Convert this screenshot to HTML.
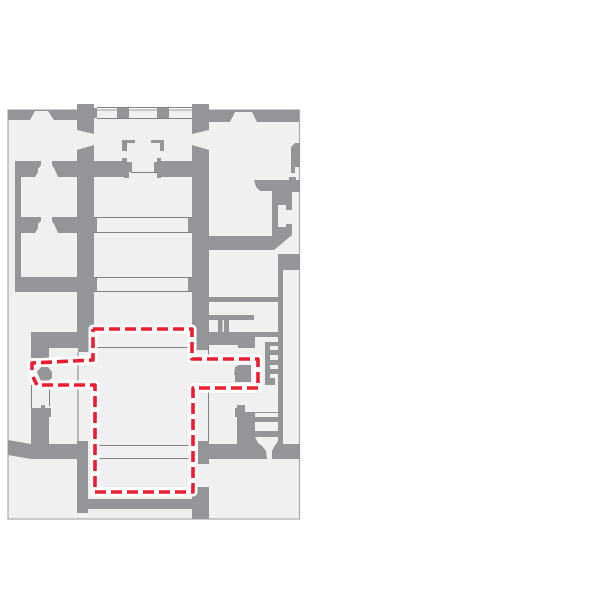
<!DOCTYPE html>
<html><head><meta charset="utf-8"><style>html,body{margin:0;padding:0;background:#fff}svg{display:block}</style></head>
<body><svg width="600" height="600" viewBox="0 0 600 600" xmlns="http://www.w3.org/2000/svg">
<rect width="600" height="600" fill="#fff"/>
<rect x="8" y="110" width="291.500" height="409" fill="#f0f0f0" stroke="#a7a9ac" stroke-width="1.200"/>
<g fill="#939598">
<path d="M8 110H77V120H54L48 111H35L30 120H8Z"/>
<path d="M77 104H94V108H97V118H94V134L77 130Z"/>
<path d="M192 104H209V110H299V122H257L252 112H235L230 122H209V130L192 134Z"/>
<rect x="157" y="108" width="12" height="10"/><rect x="117" y="108" width="12" height="10"/>
<path d="M77 150L94 145V161H122V158H127V162H132V172H129V178H124V177H94V217H97V233H94V277H97V292H94V333H90V352H78V348H49V358H31V332H77V292H15V161H41V165L39 168H38V172L35 177H21V217H41V221L38 224V228L35 233H21V277H77V233H58L55 226L52 221V217H77V177H58L55 170L52 165V161H77Z"/>
<path d="M192 145L209 150V236H272V191H260L256 187L254 180H289V177H296V180H300V192H292V235L274 250H209V297H278V254H300V270H283V444H278V302H209V315H254V320H229V332H278V337H255V348H238V345H209V350H192V292H188V277H192V233H188V217H192V177H161V178H157V172H154V162H157V158H161V161H192Z"/>
<path d="M291 147L295 143H300V167H295V173H291Z"/>
<path d="M122 140H135V143H127V151H122Z"/><path d="M151 140H164V151H160V143H151Z"/>
<path d="M265 342H278V346H270V350H278V355H270V360H278V365H270V369H278V374H270V378H275V385H270L265 385Z"/>
<path d="M235 367L239 365H251V382H235V375H234Z"/>
<path d="M37 372L41 367H48L52 372V378L48 381H41Z"/>
<path d="M41 405H45V408H51V417H49V444H77V441H88V499H192V487H209V519H192V509H88V513H77V459H31L8 455V440L31 444V408H41Z"/>
<path d="M237 405H245V408H237Z"/>
<rect x="235" y="408" width="10" height="9"/>
<rect x="237" y="412" width="18" height="33"/>
<rect x="255" y="412" width="28" height="33"/>
<rect x="198" y="444" width="102" height="15"/>
<rect x="198" y="441" width="11" height="23"/>
</g>
<g fill="#f0f0f0">
<path d="M278 205H286V210H292V224H286V227H278Z"/>
<rect x="255" y="413" width="23" height="4"/>
<rect x="255" y="422" width="23" height="9"/>
<path d="M255 437H278V441L274 447L272 451V459H267L266 451L262 446L258 443Z"/>
<rect x="209" y="320" width="9" height="12"/><rect x="222.500" y="320" width="1.500" height="12"/>
</g>
<g fill="none" stroke="#808285" stroke-width="1">
<path d="M97 107.500H192M97 118.500H192M131 172.500H158"/>
<path d="M94 217.500H192M94 232.500H192M94 277.500H192M94 291.500H192"/>
<path d="M95 347.500H190M98 445.500H190M98 458.500H190"/>
<path d="M31.500 385V408M49.500 385V406M78 352V441M93 352V360M192.500 350V358M208.500 345V358M192.500 392V441M208.500 392V441"/>
</g>
<g fill="none" stroke-linejoin="round" stroke-linecap="round">
<path d="M93 329H192V359H258V388H193V492H95V385H37L33 377M32 370V363L93 360V329" stroke="#fff" stroke-width="9"/>
<path d="M93 329H192V359H258V388H193V492H95V385H37L33 377M32 370V363L93 360V329" stroke="#ed1c2e" stroke-width="3.600" stroke-linecap="butt" stroke-dasharray="11 5"/>
</g>
</svg></body></html>
